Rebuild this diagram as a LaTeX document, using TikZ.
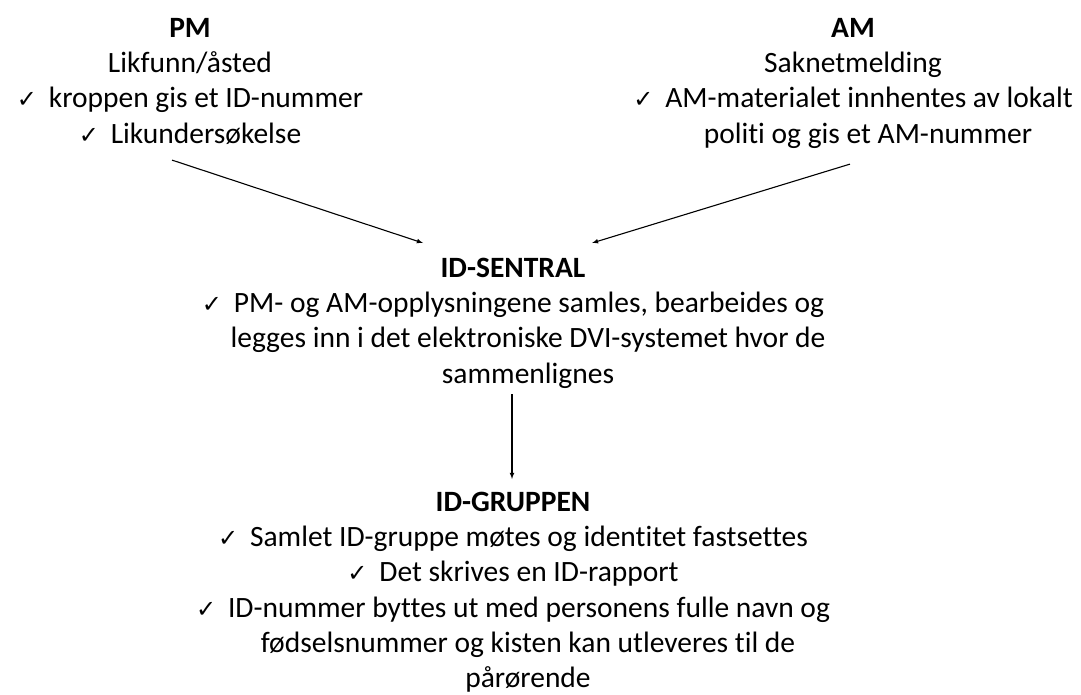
\documentclass[tikz,border=0pt]{standalone}
\usepackage{fontspec}
\setmainfont{Carlito}[Ligatures=NoCommon]
\newfontfamily\checkfont{DejaVu Sans}
\usetikzlibrary{arrows}
\tikzstyle{block} = [align=center,inner sep=0pt,outer sep=0pt,anchor=north,font=\fontsize{29.5}{35.3}\selectfont]
\tikzstyle{flow} = [->,>=latex,line width=1.1pt]
\def \hang {\hspace*{30pt}}
\newcommand{\chk}{\makebox[32pt][l]{\checkfont\fontsize{24}{24}\selectfont ✓}}

\begin{document}
\begin{tikzpicture}[x=1pt,y=-1pt]
  \useasboundingbox (0,0) rectangle (1081,695);
  \node[block] (pm) at (190,18) {\textbf{PM}\\Likfunn/åsted\\\chk kroppen gis et ID-nummer\\\chk Likundersøkelse};
  \node[block] (am) at (853,18) {\textbf{AM}\\Saknetmelding\\\chk AM-materialet innhentes av lokalt\\\hang politi og gis et AM-nummer};
  \node[block] (sentral) at (513,258) {\textbf{ID-SENTRAL}\\\chk PM- og AM-opplysningene samles, bearbeides og\\\hang legges inn i det elektroniske DVI-systemet hvor de\\\hang sammenlignes};
  \node[block] (gruppen) at (513,492) {\textbf{ID-GRUPPEN}\\\chk Samlet ID-gruppe møtes og identitet fastsettes\\\chk Det skrives en ID-rapport\\\chk ID-nummer byttes ut med personens fulle navn og\\\hang fødselsnummer og kisten kan utleveres til de\\\hang pårørende};
  \draw[flow] ([shift={(-18,16)}]pm.south) -- ([shift={(-90,-15)}]sentral.north);
  \draw[flow] ([shift={(-3,16)}]am.south) -- ([shift={(79,-15)}]sentral.north);
  \draw[flow] ([shift={(-1,6)}]sentral.south) -- ([shift={(-1,-13)}]gruppen.north);
\end{tikzpicture}
\end{document}
